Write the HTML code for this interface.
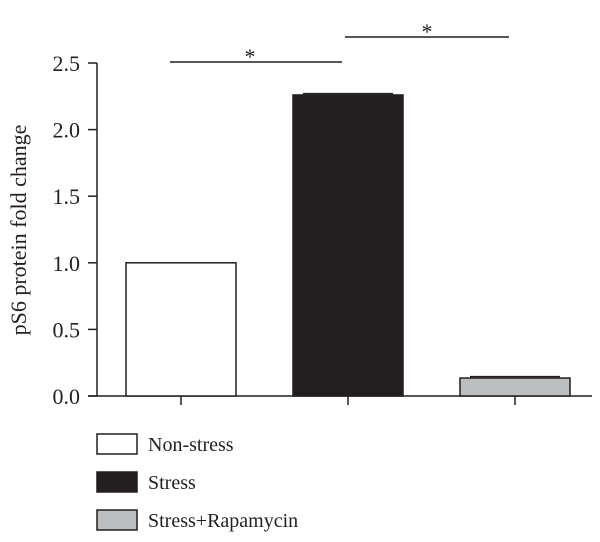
<!DOCTYPE html>
<html><head><style>
body{margin:0;background:#fff;}
svg{font-family:"Liberation Serif",serif;}
</style></head><body>
<svg id="chart" width="600" height="537" viewBox="0 0 600 537" xmlns="http://www.w3.org/2000/svg">
<g id="axes"></g><g id="bars"></g><g id="sig"></g><g id="legend"></g>
</svg>
<script>
const categories = ["Non-stress","Stress","Stress+Rapamycin"];
const values = [1.0, 2.26, 0.135];
const errors = [0.0, 0.01, 0.01];
const yTicks = [0.0, 0.5, 1.0, 1.5, 2.0, 2.5];
const yTickLabels = ["0.0","0.5","1.0","1.5","2.0","2.5"];
const fills = ["#ffffff","#231f20","#bcbec0"];

const NS="http://www.w3.org/2000/svg";
function mk(tag, attrs, parent){const e=document.createElementNS(NS,tag);for(const k in attrs)e.setAttribute(k,attrs[k]);parent.appendChild(e);return e;}
const y0=396, yScale=133.2;
function yPos(v){return y0 - v*yScale;}
function xCenter(i){return 181 + i*167;}
const barW=110;

const axes=document.getElementById('axes');
let l=mk('line',{x1:97,y1:yPos(2.5),x2:97,y2:y0,stroke:'#231f20','stroke-width':1.5},axes);


l=mk('line',{x1:88,y1:y0,x2:592,y2:y0,stroke:'#231f20','stroke-width':1.5},axes);


yTicks.forEach((t,i)=>{
  const tk=mk('line',{x1:88,y1:yPos(t),x2:97,y2:yPos(t),stroke:'#231f20','stroke-width':1.5},axes);
  
  
  const tx=mk('text',{x:80,y:yPos(t)+8,'text-anchor':'end','font-size':22,fill:'#231f20'},axes);
  tx.textContent=yTickLabels[i];
  
  
});
const yt=mk('text',{x:0,y:0,transform:'translate(26,230) rotate(-90)','text-anchor':'middle','font-size':22,fill:'#231f20'},axes);
yt.textContent='pS6 protein fold change';



const bars=document.getElementById('bars');
categories.forEach((c,i)=>{
  const xc=xCenter(i);
  const b=mk('rect',{x:xc-barW/2,y:yPos(values[i]),width:barW,height:y0-yPos(values[i]),fill:fills[i],stroke:'#231f20','stroke-width':1.5},bars);
  
  
  if(errors[i]>0){
    const e=mk('line',{x1:xc-barW/2+10,y1:yPos(values[i]+errors[i]),x2:xc+barW/2-10,y2:yPos(values[i]+errors[i]),stroke:'#231f20','stroke-width':1.5},bars);
    
    
  }
  const t=mk('line',{x1:xc,y1:y0,x2:xc,y2:y0+9,stroke:'#231f20','stroke-width':1.5},bars);
  
  
});

const sig=document.getElementById('sig');
[[170,342,62,250],[345,509,37,427]].forEach(s=>{
  const ln=mk('line',{x1:s[0],y1:s[2],x2:s[1],y2:s[2],stroke:'#231f20','stroke-width':1.5},sig);
  
  
  const st=mk('text',{x:s[3],y:s[2]+2,'text-anchor':'middle','font-size':22,fill:'#231f20'},sig);
  st.textContent='*';
  
  
});

const legend=document.getElementById('legend');
const ly=[434,472,510];
categories.forEach((c,i)=>{
  const r=mk('rect',{x:97,y:ly[i],width:40,height:20,fill:fills[i],stroke:'#231f20','stroke-width':1.5},legend);
  
  
  const t=mk('text',{x:148,y:ly[i]+17,'font-size':20,fill:'#231f20'},legend);
  t.textContent=c;
  
  
});
</script>
</body></html>
